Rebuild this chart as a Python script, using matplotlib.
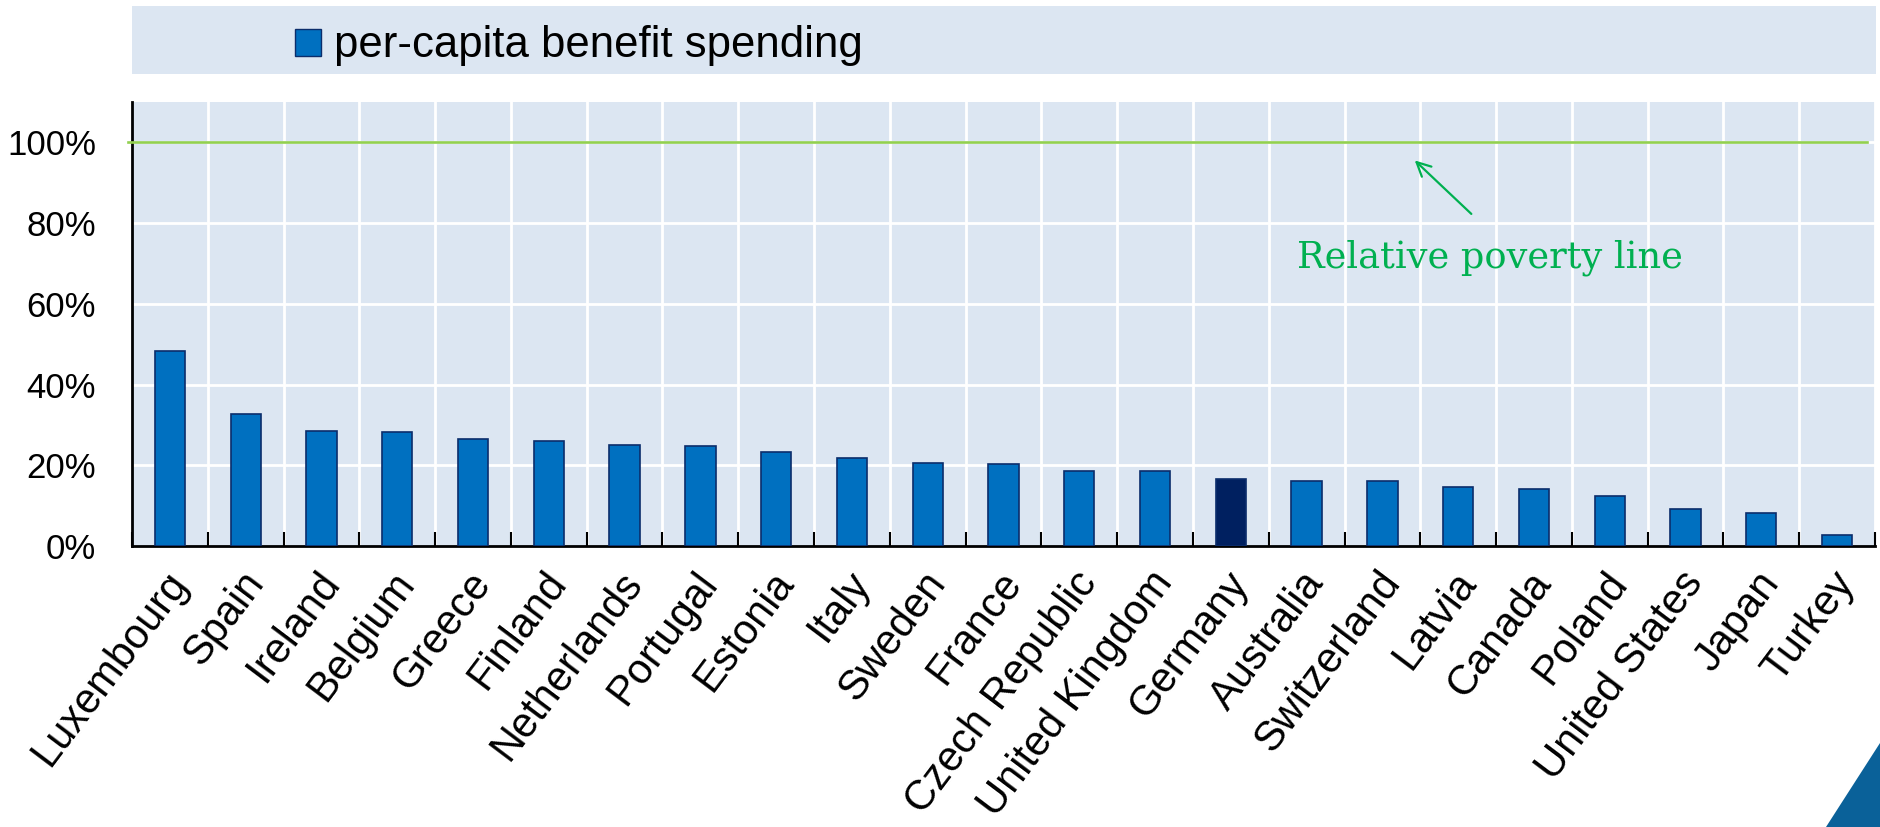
import matplotlib
matplotlib.use("Agg")
import matplotlib.pyplot as plt
import matplotlib.transforms as mtransforms
from matplotlib.patches import Rectangle, Polygon
import numpy as np

plt.rcParams['font.family'] = ['Liberation Sans', 'DejaVu Sans']

# data (% of relative poverty line)
countries = ['Luxembourg', 'Spain', 'Ireland', 'Belgium', 'Greece', 'Finland',
             'Netherlands', 'Portugal', 'Estonia', 'Italy', 'Sweden', 'France',
             'Czech Republic', 'United Kingdom', 'Germany', 'Australia',
             'Switzerland', 'Latvia', 'Canada', 'Poland', 'United States',
             'Japan', 'Turkey']
spending = [48.4, 32.6, 28.5, 28.3, 26.5, 25.9, 25.0, 24.7, 23.2, 21.9, 20.6,
            20.2, 18.6, 18.6, 16.7, 16.2, 16.2, 14.7, 14.0, 12.3, 9.1, 8.1, 2.8]
highlight = 'Germany'
poverty_line = 100
yticks = [0, 20, 40, 60, 80, 100]

bg = '#DCE6F2'
bar_col = '#0070C0'
hi_col = '#002060'
edge_col = '#0B2D6B'
green_line = '#92D050'
green_txt = '#00B050'

fig = plt.figure(figsize=(18.8, 8.27), dpi=100)

# legend band at the top
fig.patches.append(Rectangle((132 / 1880, 1 - 74 / 827), (1876 - 132) / 1880, 68 / 827,
                             transform=fig.transFigure, facecolor=bg, edgecolor='none'))
fig.patches.append(Rectangle((295 / 1880, 1 - 56 / 827), 26 / 1880, 27 / 827,
                             transform=fig.transFigure, facecolor=bar_col,
                             edgecolor=edge_col, linewidth=1))
fig.text(334 / 1880, 1 - 45 / 827, 'per-capita benefit spending', fontsize=31.5,
         va='center', ha='left')

# corner triangle
fig.patches.append(Polygon([(1826 / 1880, 0), (1, 84 / 827), (1, 0)], closed=True,
                           transform=fig.transFigure, facecolor='#0A6199',
                           edgecolor='none'))

ax = fig.add_axes([132 / 1880, 281 / 827, (1875 - 132) / 1880, 444 / 827])
ax.set_facecolor(bg)

x = np.arange(len(countries))
colors = [hi_col if c == highlight else bar_col for c in countries]
ax.bar(x, spending, width=0.4, color=colors, edgecolor=edge_col, linewidth=1.2, zorder=3)

ax.set_xlim(-0.5, len(countries) - 0.5)
ax.set_ylim(0, 110)

# grid
for yv in yticks[1:]:
    ax.axhline(yv, color='white', linewidth=2, zorder=1)
for b in np.arange(0.5, len(countries), 1):
    ax.axvline(b, color='white', linewidth=2, zorder=1)

# poverty line
ax.plot([-0.553, 22.39], [poverty_line, poverty_line], color=green_line,
        linewidth=1.9, clip_on=False, zorder=4)
ax.annotate('', xy=(16.4, 96), xytext=(17.2, 81.8),
            arrowprops=dict(arrowstyle='->', color=green_txt, lw=1.6,
                            mutation_scale=25))
ax.text(17.42, 71.5, 'Relative poverty line', color=green_txt, fontsize=26.5,
        family='DejaVu Serif', ha='center', va='center')

# axes styling
for s in ['top', 'right']:
    ax.spines[s].set_visible(False)
ax.spines['left'].set_linewidth(2)
ax.spines['bottom'].set_linewidth(2)

ax.set_yticks(yticks)
ax.set_yticklabels([f'{v}%' for v in yticks], fontsize=25)
ax.tick_params(axis='y', length=0, pad=26)

ax.set_xticks(np.arange(-0.5, len(countries), 1), minor=False)
ax.set_xticklabels([])
ax.tick_params(axis='x', which='major', direction='in', length=10, width=1.5,
               color='black')
ax.set_xticks(x, minor=True)
ax.set_xticklabels(countries, minor=True, fontsize=30, rotation=53,
                   ha='right', va='top', rotation_mode='anchor')
ax.tick_params(axis='x', which='minor', length=0, pad=13)
off = mtransforms.ScaledTranslation(-6 / 100, 0, fig.dpi_scale_trans)
for lab in ax.get_xticklabels(minor=True):
    lab.set_transform(lab.get_transform() + off)

fig.savefig('out.png', dpi=100)
